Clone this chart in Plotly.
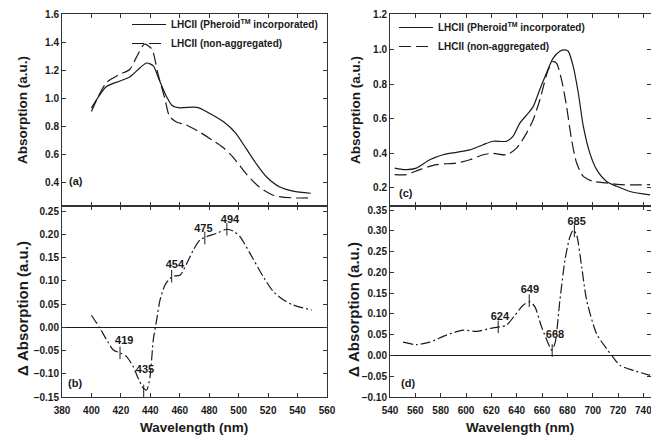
import plotly.graph_objects as go

# ---------------- Panel (a): absorption 400-550 nm ----------------
a_wl_pheroid = [400, 410, 419, 426, 433, 437.5, 442, 446, 451, 455, 460, 469, 473, 482, 491, 498, 505, 512, 519, 528, 537, 549]
a_abs_pheroid = [0.928, 1.08, 1.12, 1.15, 1.216, 1.25, 1.23, 1.13, 1.01, 0.945, 0.93, 0.935, 0.93, 0.88, 0.82, 0.75, 0.64, 0.53, 0.436, 0.364, 0.335, 0.32]
a_wl_nonagg = [400, 410, 419, 426, 430.5, 436, 441, 445, 450, 453, 458, 464, 473, 482, 489, 496, 505, 514, 524, 537, 549]
a_abs_nonagg = [0.904, 1.108, 1.168, 1.204, 1.29, 1.384, 1.35, 1.18, 0.99, 0.87, 0.827, 0.81, 0.76, 0.70, 0.65, 0.58, 0.46, 0.364, 0.304, 0.287, 0.287]

# ---------------- Panel (b): difference spectrum ----------------
b_wl = [400, 405.8, 410.3, 414.9, 419.4, 423.9, 428.4, 431.8, 435.2, 437.5, 439.8, 442, 444.3, 446.6, 450, 453.4, 455.6, 460.1, 464.7, 469.2, 473.7, 478.3, 485, 491.8, 496.4, 500.9, 507.7, 516.7, 523.5, 530.3, 537.1, 549.6]
b_dabs = [0.026, -0.002, -0.027, -0.049, -0.055, -0.063, -0.085, -0.11, -0.131, -0.135, -0.106, -0.027, 0.016, 0.059, 0.091, 0.105, 0.11, 0.112, 0.137, 0.166, 0.188, 0.195, 0.202, 0.211, 0.207, 0.195, 0.159, 0.109, 0.077, 0.059, 0.048, 0.037]
b_peak_labels = ["419", "435", "454", "475", "494"]
b_peak_wl = [419.4, 435.5, 454.5, 477, 492]
b_peak_val = [-0.055, -0.137, 0.11, 0.192, 0.211]
b_label_wl = [422.3, 436.4, 456.7, 476, 494.1]
b_label_val = [-0.030, -0.093, 0.134, 0.211, 0.231]

# ---------------- Panel (c): absorption 540-750 nm ----------------
c_wl_pheroid = [543.7, 552.9, 560.8, 571.4, 581.9, 592.4, 603, 613.5, 621.4, 632, 637.2, 642.5, 649.1, 653, 658.3, 663.6, 668.8, 674.1, 678.1, 680.7, 684.7, 688.6, 692.6, 697.8, 703.1, 711, 718.9, 729.5, 745.3]
c_abs_pheroid = [0.315, 0.306, 0.315, 0.363, 0.392, 0.406, 0.42, 0.45, 0.47, 0.47, 0.50, 0.575, 0.632, 0.67, 0.77, 0.866, 0.95, 0.99, 0.998, 0.99, 0.90, 0.75, 0.556, 0.40, 0.306, 0.238, 0.21, 0.18, 0.16]
c_wl_nonagg = [543.7, 552.9, 563.5, 576.6, 592.4, 603, 613.5, 621.4, 632, 639.9, 647.8, 653, 658.3, 664.9, 668.8, 671.5, 675.4, 679.4, 683.3, 687.3, 692.6, 700.5, 711, 721.6, 745.3]
c_abs_nonagg = [0.277, 0.277, 0.306, 0.335, 0.344, 0.363, 0.392, 0.40, 0.392, 0.43, 0.517, 0.594, 0.71, 0.883, 0.93, 0.92, 0.825, 0.67, 0.48, 0.344, 0.267, 0.238, 0.229, 0.219, 0.219]

# ---------------- Panel (d): difference spectrum ----------------
d_wl = [550.3, 560.8, 571.4, 584.5, 597.7, 608.2, 618.8, 626.7, 632, 638.6, 645.1, 650.4, 654.4, 659.6, 664.9, 667.5, 670.2, 674.1, 678.1, 682, 684.7, 687.3, 691.3, 695.2, 703.1, 711, 715, 721.6, 732.1, 745.3]
d_dabs = [0.032, 0.026, 0.032, 0.049, 0.061, 0.058, 0.065, 0.069, 0.073, 0.097, 0.121, 0.129, 0.117, 0.069, 0.029, 0.013, 0.029, 0.133, 0.23, 0.286, 0.302, 0.29, 0.213, 0.133, 0.052, 0.016, 0.0, -0.024, -0.036, -0.048]
d_peak_labels = ["624", "649", "668", "685"]
d_peak_wl = [625.4, 649.9, 668, 685.5]
d_peak_val = [0.069, 0.132, 0.012, 0.300]
d_label_wl = [626.7, 650.4, 670.2, 687.3]
d_label_val = [0.093, 0.157, 0.049, 0.322]

name_pheroid = "LHCII (Pheroid<sup>TM</sup> incorporated)"
name_nonagg = "LHCII (non-aggregated)"

W, H = 651, 441
FONT = "Liberation Sans"
INK = "#1a1a1a"


def fx(p):
    return p / W


def fy(p):
    return 1 - p / H


fig = go.Figure()

lw = 1.2
SOLID = dict(color=INK, width=lw, shape="spline", smoothing=0.7)
DASH = dict(color=INK, width=lw, dash="12px,5px", shape="spline", smoothing=0.7)
DASHDOT = dict(color=INK, width=lw, dash="10px,3px,2px,3px", shape="spline", smoothing=0.7)

# (a)
fig.add_trace(go.Scatter(x=a_wl_pheroid, y=a_abs_pheroid, mode="lines", name=name_pheroid,
                         line=SOLID, xaxis="x", yaxis="y", legend="legend"))
fig.add_trace(go.Scatter(x=a_wl_nonagg, y=a_abs_nonagg, mode="lines", name=name_nonagg,
                         line=DASH, xaxis="x", yaxis="y", legend="legend"))
# (b)
fig.add_trace(go.Scatter(x=b_wl, y=b_dabs, mode="lines", showlegend=False,
                         line=DASHDOT, xaxis="x2", yaxis="y2"))
fig.add_trace(go.Scatter(x=b_peak_wl, y=b_peak_val, mode="markers", showlegend=False,
                         marker=dict(symbol="line-ns", size=9, line=dict(color=INK, width=1)),
                         xaxis="x2", yaxis="y2"))
fig.add_trace(go.Scatter(x=b_label_wl, y=b_label_val, mode="text", text=b_peak_labels, showlegend=False,
                         textfont=dict(family=FONT, size=11, color=INK, weight="bold"),
                         xaxis="x2", yaxis="y2"))
# (c)
fig.add_trace(go.Scatter(x=c_wl_pheroid, y=c_abs_pheroid, mode="lines", name=name_pheroid,
                         line=SOLID, xaxis="x3", yaxis="y3", legend="legend2"))
fig.add_trace(go.Scatter(x=c_wl_nonagg, y=c_abs_nonagg, mode="lines", name=name_nonagg,
                         line=DASH, xaxis="x3", yaxis="y3", legend="legend2"))
# (d)
fig.add_trace(go.Scatter(x=d_wl, y=d_dabs, mode="lines", showlegend=False,
                         line=DASHDOT, xaxis="x4", yaxis="y4"))
fig.add_trace(go.Scatter(x=d_peak_wl, y=d_peak_val, mode="markers", showlegend=False,
                         marker=dict(symbol="line-ns", size=9, line=dict(color=INK, width=1)),
                         xaxis="x4", yaxis="y4"))
fig.add_trace(go.Scatter(x=d_label_wl, y=d_label_val, mode="text", text=d_peak_labels, showlegend=False,
                         textfont=dict(family=FONT, size=11, color=INK, weight="bold"),
                         xaxis="x4", yaxis="y4"))

tickfont = dict(family=FONT, size=10, color=INK, weight="bold")


def xax(domain, rng, anchor, labels, dtick, tick0):
    return dict(domain=domain, range=rng, anchor=anchor, showticklabels=labels, dtick=dtick, tick0=tick0,
                ticks="inside", ticklen=4, tickcolor="#333", showline=True, linecolor="#333", linewidth=1,
                mirror="ticks", showgrid=False, zeroline=False, tickfont=tickfont, automargin=False,
                ticklabelstandoff=4, ticklabeloverflow="allow")


def yax(domain, rng, anchor, dtick, tick0, fmt, zero):
    return dict(domain=domain, range=rng, anchor=anchor, dtick=dtick, tick0=tick0, tickformat=fmt,
                ticks="inside", ticklen=4, tickcolor="#333", showline=True, linecolor="#333", linewidth=1,
                mirror="ticks", showgrid=False, zeroline=zero, zerolinecolor=INK, zerolinewidth=1,
                tickfont=tickfont, automargin=False)


left_dom = [fx(62), fx(327)]
right_dom = [fx(390), 1.0]
top_dom = [fy(206), fy(14)]
bot_dom = [fy(397), fy(206)]

legend_font = dict(family=FONT, size=10, color=INK, weight="bold")

fig.update_layout(
    width=W, height=H,
    margin=dict(l=0, r=0, t=0, b=0, autoexpand=False),
    paper_bgcolor="white", plot_bgcolor="white",
    font=dict(family=FONT, size=10, color=INK, weight="bold"),
    xaxis=xax(left_dom, [380, 560], "y", False, 20, 380),
    yaxis=yax(top_dom, [0.229, 1.6], "x", 0.2, 0.4, ".1f", False),
    xaxis2=xax(left_dom, [380, 560], "y2", True, 20, 380),
    yaxis2=yax(bot_dom, [-0.15, 0.261], "x2", 0.05, -0.15, ".2f", True),
    xaxis3=xax(right_dom, [540, 746], "y3", False, 20, 540),
    yaxis3=yax(top_dom, [0.096, 1.205], "x3", 0.2, 0.2, ".1f", False),
    xaxis4=xax(right_dom, [540, 746], "y4", True, 20, 540),
    yaxis4=yax(bot_dom, [-0.10, 0.36], "x4", 0.05, -0.10, ".2f", True),
    legend=dict(x=fx(127), y=fy(10), xanchor="left", yanchor="top", bgcolor="rgba(0,0,0,0)",
                font=legend_font, itemwidth=34, tracegroupgap=0),
    legend2=dict(x=fx(394), y=fy(13), xanchor="left", yanchor="top", bgcolor="rgba(0,0,0,0)",
                 font=legend_font, itemwidth=34, tracegroupgap=0),
)

title_font = dict(family=FONT, size=13.5, color=INK, weight="bold")
delta_font = dict(family=FONT, size=15, color=INK, weight="bold")
annots = [
    dict(text="Absorption (a.u.)", x=fx(22), y=fy(110), textangle=-90, font=title_font),
    dict(text="\u0394 Absorption (a.u.)", x=fx(22), y=fy(309), textangle=-90, font=delta_font),
    dict(text="Absorption (a.u.)", x=fx(355), y=fy(110), textangle=-90, font=title_font),
    dict(text="\u0394 Absorption (a.u.)", x=fx(353), y=fy(309), textangle=-90, font=delta_font),
    dict(text="Wavelength (nm)", x=fx(194), y=fy(427), textangle=0, font=title_font),
    dict(text="Wavelength (nm)", x=fx(520), y=fy(427), textangle=0, font=title_font),
]
for a in annots:
    fig.add_annotation(xref="paper", yref="paper", xanchor="center", yanchor="middle",
                       showarrow=False, **a)

panel_font = dict(family=FONT, size=11, color=INK, weight="bold")
for txt, px, py in [("(a)", 76, 181), ("(b)", 75, 383), ("(c)", 406, 193), ("(d)", 408, 383)]:
    fig.add_annotation(xref="paper", yref="paper", x=fx(px), y=fy(py), xanchor="center", yanchor="middle",
                       showarrow=False, text=txt, font=panel_font)

fig.write_html("out.html", config={"displayModeBar": False},
               post_script="document.body.style.margin='0px';")
